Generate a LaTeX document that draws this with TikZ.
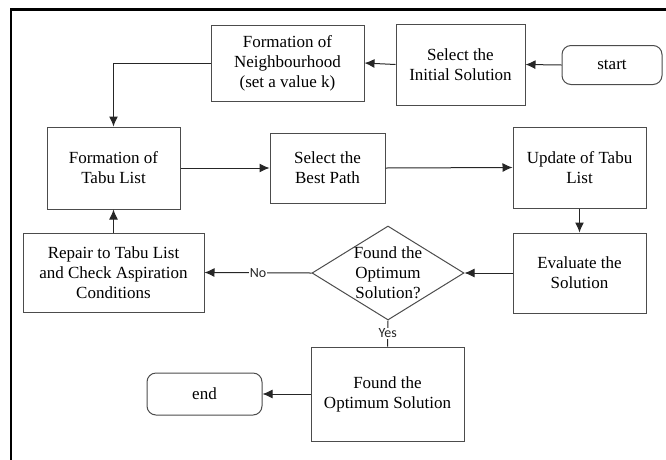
\documentclass[tikz,border=0pt]{standalone}
\usepackage{fontspec}
\setmainfont{Liberation Serif}
\newfontfamily\answerfont{Carlito}
\usetikzlibrary{arrows.meta,shapes.geometric}
\tikzset{
    stepbox/.style={draw=black!70, line width=1pt, fill=white, align=center, inner sep=2pt, font=\fontsize{17}{20}\selectfont},
    termbox/.style={stepbox, rounded corners=9pt},
    decision/.style={draw=black!70, line width=1pt, diamond, inner sep=0pt},
    flow/.style={-{Latex[length=10pt,width=9pt]}, line width=1pt, black!85},
    answer/.style={fill=white, inner sep=1pt, font=\answerfont\fontsize{14}{14}\selectfont}
}
\begin{document}
\begin{tikzpicture}[x=1pt,y=-1pt]
    \useasboundingbox (0,0) rectangle (666,459);
    \draw[line width=2.6pt] (11,462) -- (11,9.5) -- (670,9.5);
    \node[termbox, minimum width=100pt, minimum height=39pt] (start) at (612,65) {start};
    \node[stepbox, minimum width=129pt, minimum height=81pt] (init) at (460.5,64.5) {Select the\\Initial Solution};
    \node[stepbox, minimum width=153pt, minimum height=76pt] (neigh) at (287.5,63) {Formation of\\Neighbourhood\\(set a value k)};
    \node[stepbox, minimum width=133pt, minimum height=82pt] (tabu) at (113.5,168) {Formation of\\Tabu List};
    \node[stepbox, minimum width=115pt, minimum height=70pt] (path) at (327.5,168) {Select the\\Best Path};
    \node[stepbox, minimum width=133pt, minimum height=81pt] (update) at (579.5,167.5) {Update of Tabu\\List};
    \node[stepbox, minimum width=133pt, minimum height=80pt] (eval) at (579.5,273) {Evaluate the\\Solution};
    \node[decision, minimum width=152pt, minimum height=94pt] (dec) at (388,273) {};
    \node[align=center, font=\fontsize{17}{20}\selectfont] (dectext) at (dec.center) {Found the\\Optimum\\Solution?};
    \node[stepbox, minimum width=181pt, minimum height=79pt] (repair) at (113.5,272.5) {Repair to Tabu List\\and Check Aspiration\\Conditions};
    \node[stepbox, minimum width=153pt, minimum height=94pt] (found) at (387.5,394) {Found the\\Optimum Solution};
    \node[termbox, minimum width=115pt, minimum height=42pt] (end) at (204.5,394) {end};
    \draw[flow] (start.west) -- (init.east);
    \draw[flow] (init.west) -- (neigh.east);
    \draw[flow] (neigh.west) -| (tabu.north);
    \draw[flow] (tabu.east) -- (path.west);
    \draw[flow] (path.east) -- (update.west);
    \draw[flow] (update.south) -- (eval.north);
    \draw[flow] (eval.west) -- (dec.east);
    \draw[flow] (dec.west) -- node[answer] (no) {No} (repair.east);
    \draw[flow] (repair.north) -- (tabu.south);
    \draw[line width=1pt, black!85] (dec.south) -- node[answer] (yes) {Yes} (found.north);
    \draw[flow] (found.west) -- (end.east);
\end{tikzpicture}
\end{document}
